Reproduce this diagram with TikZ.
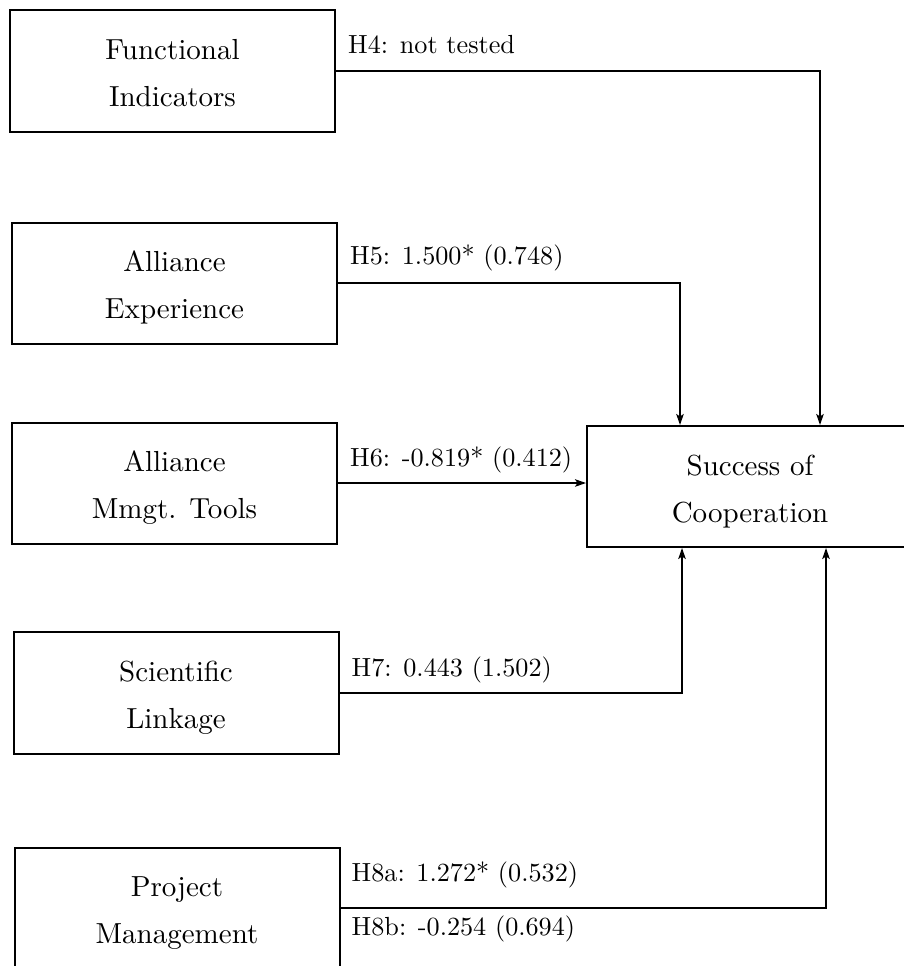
\documentclass[tikz,border=0pt]{standalone}
\usepackage{graphicx}
\usetikzlibrary{arrows.meta}

% two-line caption inside a factor box
\newcommand{\boxtext}[2]{\scalebox{2.9}{\begin{tabular}{@{}c@{}}\rule{0pt}{12pt}#1\\[4.2pt]#2\end{tabular}}}
% coefficient label along a path
\newcommand{\pathtext}[1]{\scalebox{2.62}{#1}}

\tikzset{
  factor/.style={draw=black, line width=2pt, inner sep=0pt,
                 minimum width=325pt, minimum height=121pt},
  coeff/.style={anchor=base west, inner sep=0pt},
  link/.style={draw=black, line width=1.7pt,
               -{Stealth[length=11pt,width=7.5pt,inset=2.5pt]}}
}

\begin{document}
\begin{tikzpicture}[x=1pt,y=-1pt]
  \useasboundingbox (0,0) rectangle (903,966);

  % explanatory factors
  \node[factor] (FI)  at (172.5,71)  {\boxtext{Functional}{Indicators}};
  \node[factor] (AE)  at (174.5,283) {\boxtext{Alliance}{Experience}};
  \node[factor] (AMT) at (174.5,483) {\boxtext{Alliance}{Mmgt. Tools}};
  \node[factor, minimum height=122pt] (SL) at (176,693) {\boxtext{Scientific}{Linkage}};
  \node[factor, minimum height=120pt] (PM) at (177,908) {\boxtext{Project}{Management}};

  % dependent variable
  \node[factor, minimum width=326pt] (SC) at (750,486.5) {\boxtext{Success of}{Cooperation}};

  % hypothesised effects
  \draw[link] (FI.east) -| ([xshift=70pt]SC.north);
  \draw[link] (AE.east) -| ([xshift=-70pt]SC.north);
  \draw[link] (AMT.east) -- (AMT.east -| SC.west);
  \draw[link] (SL.east) -| ([xshift=-68pt]SC.south);
  \draw[link] (PM.east) -| ([xshift=76pt]SC.south);

  % estimates (standard errors)
  \node[coeff] (h4)  at ([shift={(12pt,18pt)}]FI.east)  {\pathtext{H4: not tested}};
  \node[coeff] (h5)  at ([shift={(12pt,19pt)}]AE.east)  {\pathtext{H5: 1.500* (0.748)}};
  \node[coeff] (h6)  at ([shift={(12pt,17pt)}]AMT.east) {\pathtext{H6: -0.819* (0.412)}};
  \node[coeff] (h7)  at ([shift={(12pt,17pt)}]SL.east)  {\pathtext{H7: 0.443 (1.502)}};
  \node[coeff] (h8a) at ([shift={(11pt,27pt)}]PM.east)  {\pathtext{H8a: 1.272* (0.532)}};
  \node[coeff] (h8b) at ([shift={(11pt,-27pt)}]PM.east) {\pathtext{H8b: -0.254 (0.694)}};
\end{tikzpicture}
\end{document}
